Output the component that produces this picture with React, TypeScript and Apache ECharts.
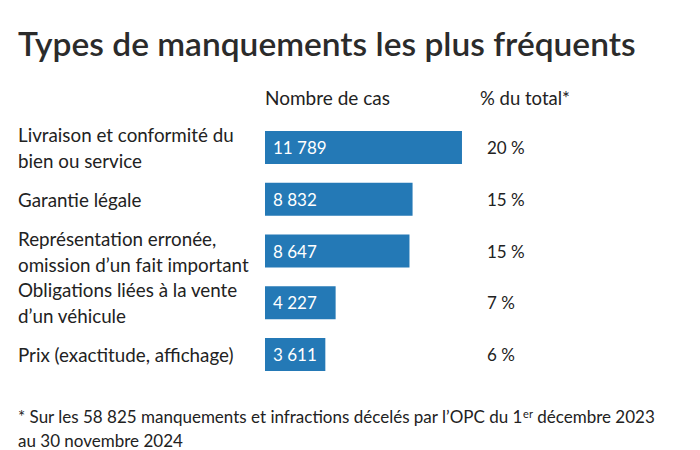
import React, { useEffect, useRef } from "react";
import * as echarts from "echarts";

const categories = [
  "Livraison et conformité du\nbien ou service",
  "Garantie légale",
  "Représentation erronée,\nomission d’un fait important",
  "Obligations liées à la vente\nd’un véhicule",
  "Prix (exactitude, affichage)",
];
const cases = [11789, 8832, 8647, 4227, 3611];
const shares = ["20 %", "15 %", "15 %", "7 %", "6 %"];

const titleText = "Types de manquements les plus fréquents";
const headerCases = "Nombre de cas";
const headerShare = "% du total*";
const footLine1a = "* Sur les 58 825 manquements et infractions décelés par l’OPC du 1";
const footSup = "er";
const footLine1b = " décembre 2023";
const footLine2 = "au 30 novembre 2024";

const FONT = "Lato, 'Noto Sans', sans-serif";
const fmt = (v: number) => String(v).replace(/\B(?=(\d{3})+(?!\d))/g, " ");

export default function App() {
  const ref = useRef<HTMLDivElement>(null);
  useEffect(() => {
    if (!ref.current) return;
    const chart = echarts.init(ref.current, undefined, { renderer: "svg" });
    chart.setOption({
      animation: false,
      backgroundColor: "#ffffff",
      textStyle: { fontFamily: FONT },
      grid: { left: 265, right: 234.5, top: 121.6, bottom: 69.6, containLabel: false },
      xAxis: { type: "value", min: 0, max: 12000, show: false },
      yAxis: [
        {
          type: "category",
          inverse: true,
          data: categories,
          axisLine: { show: false },
          axisTick: { show: false },
          axisLabel: {
            align: "left",
            margin: 247,
            fontSize: 18.8,
            lineHeight: 26,
            color: "#222222",
            fontFamily: FONT,
          },
        },
        {
          type: "category",
          inverse: true,
          position: "right",
          data: shares,
          axisLine: { show: false },
          axisTick: { show: false },
          axisLabel: {
            align: "left",
            margin: 21.5,
            fontSize: 17,
            color: "#222222",
            fontFamily: FONT,
          },
        },
      ],
      series: [
        {
          type: "bar",
          data: cases,
          barWidth: 33,
          itemStyle: { color: "#2479b6" },
          label: {
            show: true,
            position: "insideLeft",
            distance: 8,
            color: "#ffffff",
            fontSize: 17,
            fontFamily: FONT,
            formatter: (p: any) => fmt(p.value),
          },
        },
      ],
      graphic: [
        {
          type: "text",
          left: 18,
          top: 26,
          style: { text: titleText, fontSize: 33.5, fontWeight: 600, fill: "#2b2b2b", fontFamily: FONT },
        },
        {
          type: "text",
          left: 265,
          top: 88,
          style: { text: headerCases, fontSize: 19, fill: "#222222", fontFamily: FONT },
        },
        {
          type: "text",
          left: 480,
          top: 88,
          style: { text: headerShare, fontSize: 18.5, fill: "#222222", fontFamily: FONT },
        },
        {
          type: "text",
          left: 18,
          top: 404,
          style: {
            text: "{n|" + footLine1a + "}{s|" + footSup + "}{n|" + footLine1b + "}\n{n|" + footLine2 + "}",
            fill: "#222222",
            fontFamily: FONT,
            rich: {
              n: { fontSize: 17, lineHeight: 24, fill: "#222222", fontFamily: FONT },
              s: {
                fontSize: 11,
                lineHeight: 14,
                verticalAlign: "top",
                padding: [4, 0, 0, 0],
                fill: "#222222",
                fontFamily: FONT,
              },
            },
          },
        },
      ],
    });
    return () => chart.dispose();
  }, []);
  return <div ref={ref} style={{ position: "fixed", left: 0, top: 0, width: 700, height: 450 }} />;
}
